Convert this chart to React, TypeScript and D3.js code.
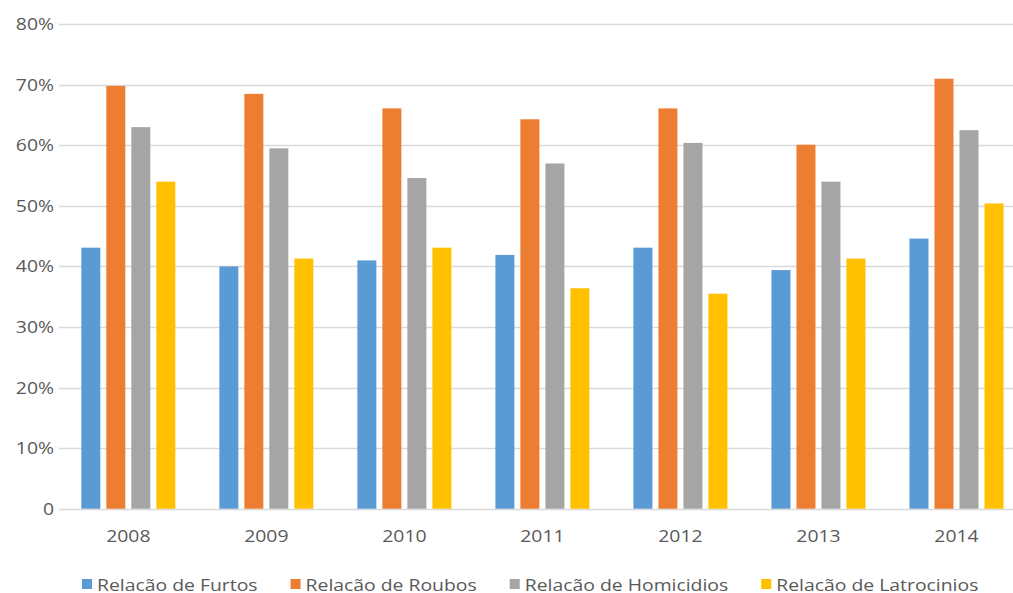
import { useEffect, useRef } from 'react'
import * as d3 from 'd3'

// anos no eixo x
const years = ['2008', '2009', '2010', '2011', '2012', '2013', '2014']

// series (%)
const seriesNames = [
  'Relacão de Furtos',
  'Relacão de Roubos',
  'Relacão de Homicidios',
  'Relacão de Latrocinios',
]
const furtos = [43.1, 40.0, 41.0, 41.9, 43.1, 39.4, 44.6]
const roubos = [69.8, 68.5, 66.1, 64.3, 66.1, 60.1, 71.0]
const homicidios = [63.0, 59.5, 54.6, 57.0, 60.4, 54.0, 62.5]
const latrocinios = [54.0, 41.3, 43.1, 36.4, 35.5, 41.3, 50.4]

const yTicks = [0, 10, 20, 30, 40, 50, 60, 70, 80]
const colours = ['#5B9BD5', '#ED7D31', '#A5A5A5', '#FFC000']

const W = 1013
const H = 593
const FONT = '"Open Sans", "Liberation Sans", sans-serif'
const TEXT = '#595959'
// the reference text is drawn a little wide, stretch it horizontally
const STRETCH = 1.14

export default function App() {
  const svgRef = useRef<SVGSVGElement>(null)

  useEffect(() => {
    const svg = d3.select(svgRef.current)
    svg.selectAll('*').remove()

    const allSeries = [furtos, roubos, homicidios, latrocinios]

    const x = d3.scaleBand().domain(years).range([59.3, 1025.5]).padding(0)
    const xs = d3.scaleBand<number>()
      .domain([0, 1, 2, 3])
      .range([0, x.bandwidth()])
      .paddingInner(0.24)
      .paddingOuter(0.88)
    const y = d3.scaleLinear().domain([0, 80]).range([508.7, 24.2])

    const label = (g: any, tx: number, ty: number, anchor: string, str: string) =>
      g.append('text')
        .attr('transform', `translate(${tx},${ty}) scale(${STRETCH},1)`)
        .attr('dy', '0.35em')
        .attr('text-anchor', anchor)
        .attr('font-family', FONT)
        .attr('font-size', 17)
        .attr('fill', TEXT)
        .text(str)

    // ── gridlines ───────────────────────────────────────────
    svg.append('g')
      .selectAll('line')
      .data(yTicks)
      .join('line')
      .attr('x1', 59)
      .attr('x2', W)
      .attr('y1', d => Math.round(y(d)) + 0.5)
      .attr('y2', d => Math.round(y(d)) + 0.5)
      .attr('stroke', '#D9D9D9')
      .attr('stroke-width', 1.3)

    // ── y labels ────────────────────────────────────────────
    const yg = svg.append('g')
    yTicks.forEach(d => label(yg, 54, y(d), 'end', d === 0 ? '0' : `${d}%`))

    // ── bars ────────────────────────────────────────────────
    allSeries.forEach((vals, si) => {
      svg.append('g')
        .selectAll('rect')
        .data(vals)
        .join('rect')
        .attr('x', (_, i) => (x(years[i]) as number) + (xs(si) as number))
        .attr('width', xs.bandwidth())
        .attr('y', d => y(d))
        .attr('height', d => y(0) - y(d))
        .attr('fill', colours[si])
    })

    // ── x labels ────────────────────────────────────────────
    const xg = svg.append('g')
    years.forEach(d => label(xg, (x(d) as number) + x.bandwidth() / 2, 536, 'middle', d))

    // ── legend ──────────────────────────────────────────────
    const legend = svg.append('g')
    let lx = 82
    seriesNames.forEach((name, si) => {
      legend.append('rect')
        .attr('x', lx)
        .attr('y', 579)
        .attr('width', 10)
        .attr('height', 10)
        .attr('fill', colours[si])
      const t = label(legend, lx + 15, 585, 'start', name)
      const len = (t.node() as SVGTextElement).getComputedTextLength() * STRETCH
      lx += 15 + len + 33
    })
  }, [])

  return (
    <svg
      ref={svgRef}
      width={W}
      height={H}
      style={{ position: 'absolute', left: 0, top: 0, background: '#fff' }}
    />
  )
}
